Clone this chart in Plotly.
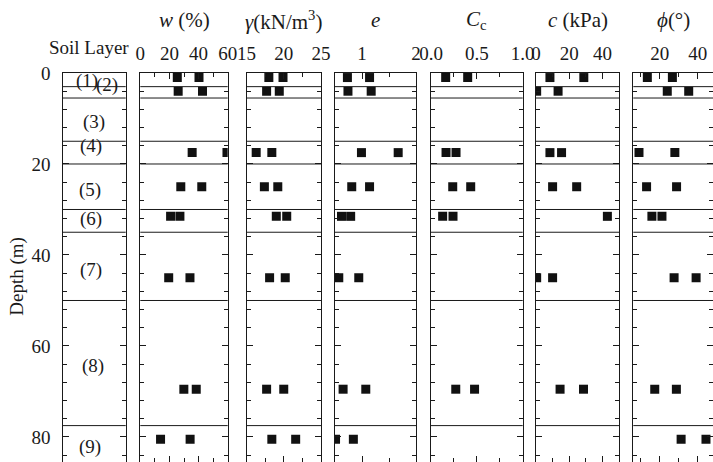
import plotly.graph_objects as go

# ---------------- data ----------------
depths = [1, 4, 17.5, 25, 31.5, 45, 69.5, 80.5]

w_a = [25.4, 26.0, 35.6, 27.8, 20.8, 19.5, 29.9, 13.9]
w_b = [40.3, 42.7, 59.5, 42.2, 27.2, 34.1, 38.4, 34.2]

gamma_a = [18.0, 17.7, 16.3, 17.4, 19.0, 18.1, 17.7, 18.4]
gamma_b = [19.9, 19.4, 18.4, 19.2, 20.4, 20.2, 20.0, 21.6]

e_a = [0.73, 0.74, 0.99, 0.81, 0.62, 0.57, 0.65, 0.51]
e_b = [1.14, 1.17, 1.67, 1.14, 0.79, 0.94, 1.07, 0.84]

cc_a = [0.16, None, 0.164, 0.237, 0.127, None, 0.27, None]
cc_b = [0.40, None, 0.273, 0.433, 0.24, None, 0.475, None]

c_a = [8.4, 0.4, 8.4, 10.0, 43.0, 0.4, 14.5, None]
c_b = [28.8, 13.3, 15.4, 24.5, None, 10.0, 28.6, None]

phi_a = [13.4, 23.9, 9.0, 13.0, 15.8, 27.5, 17.3, 31.2]
phi_b = [26.6, 35.2, 27.9, 28.8, 21.1, 39.1, 28.7, 44.3]

layer_boundaries = [3, 5.5, 15, 20, 30, 35, 50, 77.5]
layer_names = ["(1)", "(2)", "(3)", "(4)", "(5)", "(6)", "(7)", "(8)", "(9)"]
layer_label_depth = [1.7, 2.7, 10.7, 16.0, 25.7, 32.0, 43.3, 64.5, 82.2]
layer_label_x = [0.38, 0.71, 0.50, 0.45, 0.44, 0.45, 0.45, 0.48, 0.44]

panel_titles = ["<i>w</i> (%)", "<i>γ</i>(kN/m<sup>3</sup>)", "<i>e</i>",
                "<i>C</i><sub>c</sub>", "<i>c</i> (kPa)", "<i>ϕ</i>(°)"]
panel_series = [(w_a, w_b), (gamma_a, gamma_b), (e_a, e_b),
                (cc_a, cc_b), (c_a, c_b), (phi_a, phi_b)]
panel_ranges = [[0, 60], [15, 25], [0.5, 2.0], [0, 1], [0, 50], [6, 48]]
panel_dtick = [20, 5, 1, 0.5, 20, 20]
panel_tick0 = [0, 15, 0, 0, 0, 0]
panel_minor = [10, 2.5, 0.5, 0.25, 10, 10]
panel_format = ["", "", "", ".1f", "", ""]

y_ticks = [0, 20, 40, 60, 80]

# ---------------- layout constants ----------------
W, H = 713, 462
TOP = 73
FONT = "Liberation Serif"
INK = "#1a1a1a"
px_domains = [(62.5, 125.7), (140.3, 227.7), (246.5, 321.0), (335.0, 416.0),
              (431.0, 522.7), (536.0, 619.0), (633.3, 713.0)]
domains = [(a / W, b / W) for a, b in px_domains]
plot_h = H - TOP
ymax = 85.5


def paper_y(px):
    return (H - px) / plot_h


fig = go.Figure()
layout = dict(
    width=W, height=H,
    margin=dict(l=0, r=0, t=TOP, b=0, pad=0),
    paper_bgcolor="white", plot_bgcolor="white",
    showlegend=False,
    font=dict(family=FONT, size=19, color=INK),
)

annotations = []
shapes = []

for i in range(7):
    n = i + 1
    xa = "xaxis" if n == 1 else f"xaxis{n}"
    ya = "yaxis" if n == 1 else f"yaxis{n}"
    xref = "x" if n == 1 else f"x{n}"
    yref = "y" if n == 1 else f"y{n}"

    yax = dict(
        domain=[0, 1], anchor=xref, range=[ymax, 0], autorange=False,
        showgrid=False, zeroline=False, showline=True, linecolor=INK, linewidth=1.2,
        mirror="allticks", ticks="inside", ticklen=6, tickwidth=1, tickcolor=INK,
        tickmode="array", tickvals=y_ticks,
        minor=dict(dtick=4, tick0=0, ticks="inside", ticklen=4, tickwidth=1, tickcolor=INK, showgrid=False),
        showticklabels=(n == 1), ticklabelstandoff=7,
        tickfont=dict(family=FONT, size=19, color=INK),
        automargin=False,
    )
    if n > 1:
        yax["matches"] = "y"
    layout[ya] = yax

    if n == 1:
        xax = dict(domain=list(domains[i]), anchor=yref, range=[0, 1], side="top",
                   showgrid=False, zeroline=False, showline=True, linecolor=INK, linewidth=1.2,
                   mirror=True, ticks="", showticklabels=False, automargin=False)
    else:
        k = i - 1
        xax = dict(domain=list(domains[i]), anchor=yref, range=panel_ranges[k], autorange=False,
                   side="top", showgrid=False, zeroline=False, showline=True, linecolor=INK,
                   linewidth=1.2, mirror="allticks", ticks="inside", ticklen=6, tickwidth=1,
                   tickcolor=INK, tickmode="linear", tick0=panel_tick0[k], dtick=panel_dtick[k],
                   tickformat=panel_format[k],
                   minor=dict(dtick=panel_minor[k], ticks="inside", ticklen=4, tickwidth=1,
                              tickcolor=INK, showgrid=False),
                   ticklabelstandoff=4, tickfont=dict(family=FONT, size=19, color=INK),
                   automargin=False)
    layout[xa] = xax

    # layer boundary lines
    for d in layer_boundaries:
        shapes.append(dict(type="line", xref=f"{xref} domain", x0=0, x1=1, yref=yref,
                           y0=d, y1=d, line=dict(color=INK, width=1), layer="above"))

    if n == 1:
        for name, dy, lx in zip(layer_names, layer_label_depth, layer_label_x):
            annotations.append(dict(text=name, x=lx, y=dy, xref="x", yref="y", showarrow=False,
                                    font=dict(family=FONT, size=19, color=INK),
                                    xanchor="center", yanchor="middle"))
        fig.add_trace(go.Scatter(x=[], y=[], xaxis="x", yaxis="y"))
    else:
        k = i - 1
        a, b = panel_series[k]
        xs, ys = [], []
        for d, va, vb in zip(depths, a, b):
            for v in (va, vb):
                if v is not None:
                    xs.append(v)
                    ys.append(d)
        fig.add_trace(go.Scatter(x=xs, y=ys, mode="markers", xaxis=xref, yaxis=yref,
                                 cliponaxis=True,
                                 marker=dict(symbol="square", size=9, color="#111111",
                                             line=dict(width=0))))
        annotations.append(dict(text=panel_titles[k], xref=f"{xref} domain", x=0.5,
                                yref="paper", y=paper_y(20), showarrow=False,
                                xanchor="center", yanchor="middle",
                                font=dict(family=FONT, size=21, color=INK)))

annotations.append(dict(text="Soil Layer", xref="paper", x=89 / W, yref="paper", y=paper_y(47),
                        showarrow=False, xanchor="center", yanchor="middle",
                        font=dict(family=FONT, size=19, color=INK)))
annotations.append(dict(text="Depth (m)", xref="paper", x=16.7 / W, yref="paper", y=paper_y(276),
                        showarrow=False, xanchor="center", yanchor="middle", textangle=-90,
                        font=dict(family=FONT, size=19, color=INK)))

layout["annotations"] = annotations
layout["shapes"] = shapes
fig.update_layout(**layout)

fig.write_html("out.html", config={"displayModeBar": False})
